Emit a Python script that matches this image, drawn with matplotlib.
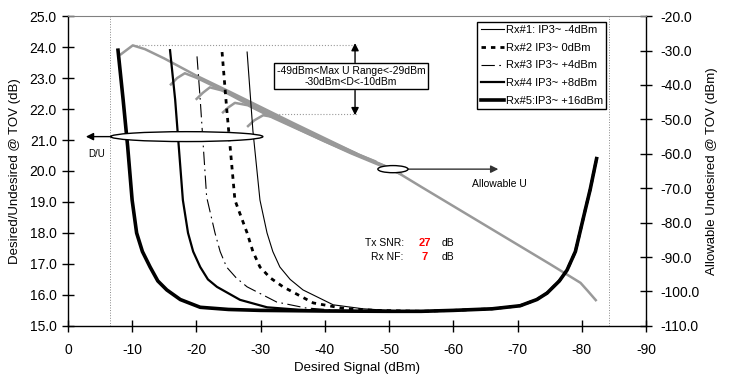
import matplotlib
matplotlib.use("Agg")
import matplotlib.pyplot as plt
from matplotlib.patches import Ellipse
import numpy as np

plt.rcParams['font.family'] = ['Liberation Sans', 'DejaVu Sans']

# ---- data ----
# D/U curves (left axis, dB) vs desired signal (dBm)
tail_d = [-55, -60, -66, -70.4, -73, -74.6, -76.5, -77.7, -79, -79.8, -80.6, -81.3, -82.3]
tail_v = [15.47, 15.5, 15.55, 15.65, 15.85, 16.06, 16.45, 16.8, 17.4, 18.1, 18.8, 19.4, 20.4]

rx1_d = [-27.9, -28.8, -29.9, -31, -31.9, -33, -34.6, -36.6, -41.3, -46, -50]
rx1_v = [23.84, 21.3, 19.06, 18.0, 17.4, 16.9, 16.5, 16.16, 15.68, 15.55, 15.5]
rx2_d = [-24, -24.7, -26, -27.9, -28.8, -29.9, -31.5, -33.5, -38.2, -43, -48]
rx2_v = [23.84, 22.06, 19.06, 18.0, 17.4, 16.9, 16.55, 16.26, 15.74, 15.56, 15.5]
rx3_d = [-20.1, -20.6, -21.6, -22.9, -23.7, -24.7, -26.2, -27.9, -32.5, -37, -42, -48]
rx3_v = [23.7, 22.3, 19.16, 18.0, 17.4, 16.9, 16.55, 16.26, 15.77, 15.58, 15.5, 15.48]
rx4_d = [-15.9, -16.7, -17.9, -18.7, -19.5, -20.6, -21.8, -23.2, -26.8, -31, -36, -40, -48]
rx4_v = [23.9, 22.3, 19.06, 18.0, 17.4, 16.9, 16.5, 16.26, 15.84, 15.6, 15.52, 15.49, 15.47]
rx5_d = [-7.8, -8.6, -9.3, -10, -10.7, -11.6, -12.8, -14, -15.4, -17.5, -20.6, -25, -30, -40, -50]
rx5_v = [23.9, 22.3, 20.8, 19.06, 18.0, 17.4, 16.9, 16.45, 16.16, 15.85, 15.6, 15.53, 15.5, 15.48, 15.47]

# allowable undesired (right axis, dBm)
u5_d = [-8.1, -10.1, -12, -15, -20, -25, -30, -35, -40, -45, -50.5, -55, -60, -65, -70, -75, -79.8, -81, -82.3]
u5_v = [-31.3, -28.5, -29.6, -32.3, -37.3, -41.8, -46.4, -51.0, -55.5, -60.0, -64.5, -69.6, -75.2, -80.8, -86.4, -92.0, -97.5, -100.0, -102.8]
u4_d = [-15.9, -17, -18.2, -20, -25, -30, -35, -40, -45]
u4_v = [-40.1, -38.0, -36.6, -37.9, -42.4, -47.0, -51.4, -55.8, -60.0]
u3_d = [-19.9, -21, -22.1, -24, -28, -33, -38, -43, -48]
u3_v = [-44.3, -42.3, -40.7, -41.6, -45.6, -50.0, -54.4, -58.6, -62.3]
u2_d = [-24, -25, -26, -28, -32, -36, -40, -45, -50]
u2_v = [-48.2, -46.5, -45.2, -45.9, -49.6, -53.0, -56.4, -60.4, -64.0]
u1_d = [-27.9, -29, -30.4, -32, -36, -40, -44, -48, -52]
u1_v = [-52.2, -50.3, -48.8, -49.3, -52.9, -56.4, -59.8, -62.9, -66.0]

labels = ['Rx#1: IP3~ -4dBm', 'Rx#2 IP3~ 0dBm', 'Rx#3 IP3~ +4dBm',
          'Rx#4 IP3~ +8dBm', 'Rx#5:IP3~ +16dBm']
x_ticks = [0, -10, -20, -30, -40, -50, -60, -70, -80, -90]
left_ticks = np.arange(15, 25.5, 1.0)
right_ticks = np.arange(-110, -15, 10.0)

fig = plt.figure(figsize=(7.3, 3.75), dpi=100)
ax = fig.add_axes([0.093, 0.131, 0.885 - 0.093, 0.957 - 0.131])
ax2 = ax.twinx()
ax.set_zorder(ax2.get_zorder() + 1)
ax.patch.set_visible(False)

# gray allowable-U curves
gray = '#999999'
for d, u in [(u1_d, u1_v), (u2_d, u2_v), (u3_d, u3_v), (u4_d, u4_v), (u5_d, u5_v)]:
    ax2.plot(d, u, color=gray, lw=1.8, solid_capstyle='butt')

# black D/U curves
l1, = ax.plot(rx1_d + tail_d, rx1_v + tail_v, color='black', lw=0.8)
l2, = ax.plot(rx2_d + tail_d, rx2_v + tail_v, color='black', lw=2.0, dashes=(1.6, 1.8))
l3, = ax.plot(rx3_d + tail_d, rx3_v + tail_v, color='black', lw=0.8, dashes=(12, 4, 1.5, 4))
l4, = ax.plot(rx4_d + tail_d, rx4_v + tail_v, color='black', lw=1.6)
l5, = ax.plot(rx5_d + tail_d, rx5_v + tail_v, color='black', lw=2.6)

ax.set_xlim(0, -90)
ax.set_ylim(15, 25)
ax2.set_ylim(-110, -20)
ax.set_xticks(x_ticks)
ax.set_xticklabels([str(t) for t in x_ticks])
ax.set_yticks(left_ticks)
ax.set_yticklabels(['%.1f' % t for t in left_ticks])
ax2.set_yticks(right_ticks)
ax2.set_yticklabels(['%.1f' % t for t in right_ticks])

ax.tick_params(axis='both', direction='inout', length=8, width=1, labelsize=10, colors='black')
ax.tick_params(axis='x', pad=8)
ax.tick_params(axis='y', pad=4)
ax2.tick_params(axis='y', direction='inout', length=8, width=1, labelsize=10, pad=6)

for s in ['left', 'bottom']:
    ax.spines[s].set_linewidth(1)
ax.spines['right'].set_visible(False)
ax.spines['top'].set_color('#808080')
ax.spines['top'].set_linewidth(0.8)
for s in ['left', 'top', 'bottom']:
    ax2.spines[s].set_visible(False)
ax2.spines['right'].set_linewidth(1)

ax.set_xlabel('Desired Signal (dBm)', fontsize=9.5, labelpad=4)
ax.set_ylabel('Desired/Undesired @ TOV (dB)', fontsize=9.5, labelpad=6)
ax2.set_ylabel('Allowable Undesired @ TOV (dBm)', fontsize=9.5, labelpad=5)

# dotted guide lines
ax.axvline(-6.5, color='#888888', lw=0.7, ls=':')
ax.axvline(-84.3, color='#888888', lw=0.7, ls=':')
ax.plot([-10.1, -45], [24.08, 24.08], color='#999999', lw=0.8, ls=':')
ax.plot([-30.5, -45], [21.84, 21.84], color='#999999', lw=0.8, ls=':')

# range box with arrows
arr = dict(arrowstyle='-|>', color='black', lw=1, mutation_scale=11, shrinkA=0, shrinkB=0)
ax.annotate('', xy=(-44.7, 24.13), xytext=(-44.7, 23.5), arrowprops=arr)
ax.annotate('', xy=(-44.7, 21.8), xytext=(-44.7, 22.6), arrowprops=arr)
ax.text(-44.1, 23.06, '-49dBm<Max U Range<-29dBm\n-30dBm<D<-10dBm', fontsize=7.5,
        ha='center', va='center', linespacing=1.15, zorder=5,
        bbox=dict(boxstyle='square,pad=0.25', fc='white', ec='black', lw=1))

# D/U marker
ax.add_patch(Ellipse((-18.5, 21.11), 23.7, 0.32, fc='white', ec='black', lw=1, zorder=4))
ax.annotate('', xy=(-2.8, 21.11), xytext=(-6.65, 21.11), arrowprops=arr)
ax.text(-4.5, 20.55, 'D/U', fontsize=7, ha='center', va='center')

# Allowable U marker
ax.add_patch(Ellipse((-50.6, 20.06), 4.7, 0.23, fc='white', ec='black', lw=1, zorder=4))
ax.annotate('', xy=(-67.0, 20.06), xytext=(-52.95, 20.06),
            arrowprops=dict(arr, color='#333333'))
ax.text(-67.1, 19.58, 'Allowable U', fontsize=7.5, ha='center', va='center')

# SNR / NF notes
ax.text(-52.3, 17.68, 'Tx SNR:', fontsize=7.5, ha='right', va='center')
ax.text(-52.3, 17.23, 'Rx NF:', fontsize=7.5, ha='right', va='center')
ax.text(-55.5, 17.68, '27', fontsize=8, color='red', fontweight='bold', ha='center', va='center')
ax.text(-55.5, 17.23, '7', fontsize=8, color='red', fontweight='bold', ha='center', va='center')
ax.text(-58.2, 17.68, 'dB', fontsize=7.5, ha='left', va='center')
ax.text(-58.2, 17.23, 'dB', fontsize=7.5, ha='left', va='center')

leg = ax.legend([l1, l2, l3, l4, l5], labels, loc='upper right',
                bbox_to_anchor=(0.931, 0.981), borderaxespad=0, fontsize=8,
                frameon=True, fancybox=False, edgecolor='black', framealpha=1,
                handlelength=2.1, handletextpad=0.15, labelspacing=0.68,
                borderpad=0.3)
leg.get_frame().set_linewidth(1)

fig.savefig('out.png', dpi=100)
